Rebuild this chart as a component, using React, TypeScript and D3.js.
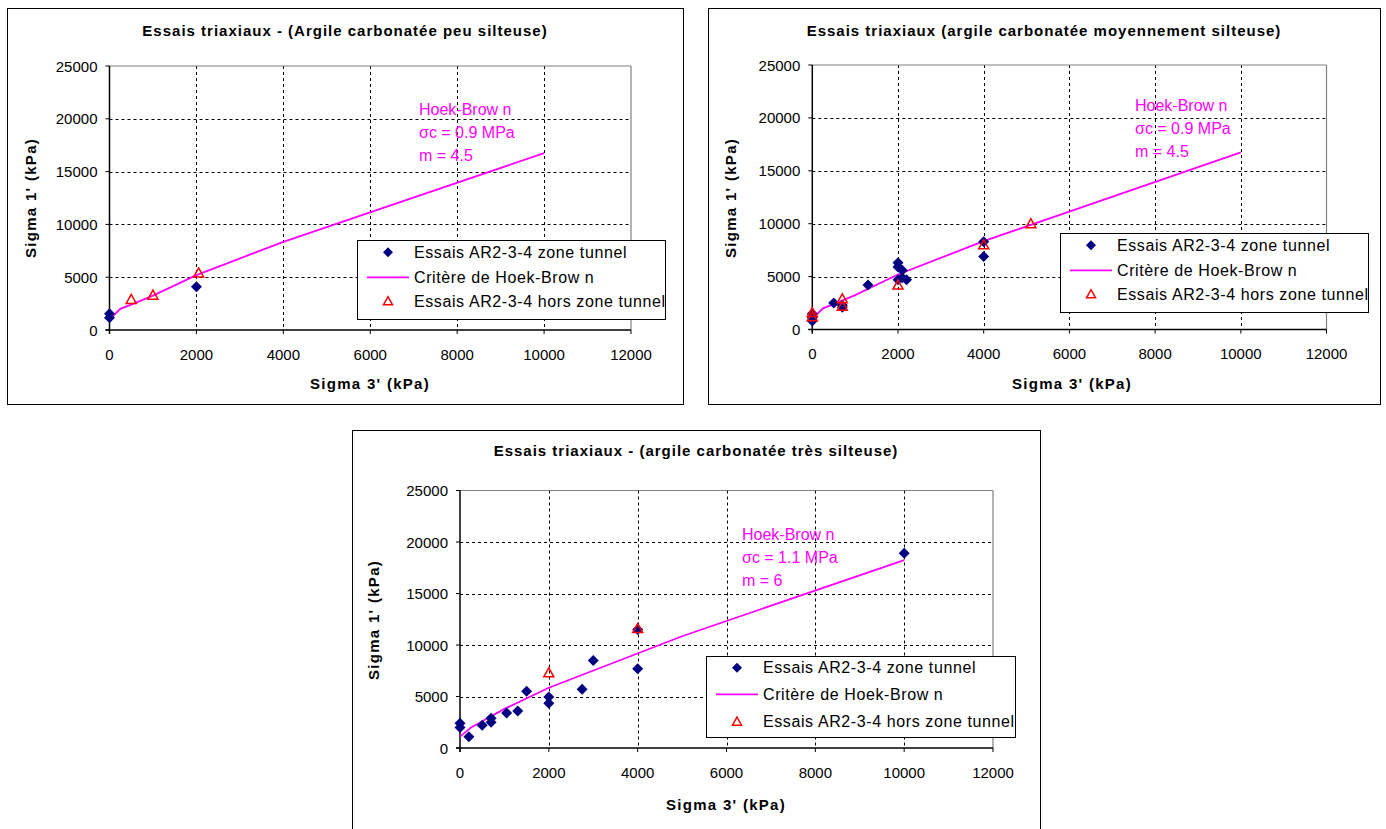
import React from 'react';
import * as d3 from 'd3';

// ---------- data ----------
const xTickValues = [0, 2000, 4000, 6000, 8000, 10000, 12000];
const yTickValues = [0, 5000, 10000, 15000, 20000, 25000];

const chartTitles = [
  'Essais triaxiaux - (Argile carbonatée peu silteuse)',
  'Essais triaxiaux (argile carbonatée moyennement silteuse)',
  'Essais triaxiaux - (argile carbonatée très silteuse)',
];
const legendLabels = [
  'Essais AR2-3-4 zone tunnel',
  'Critère de Hoek-Brow n',
  'Essais AR2-3-4 hors zone tunnel',
];
const xAxisTitle = "Sigma 3' (kPa)";
const yAxisTitle = "Sigma 1' (kPa)";

const annotPeu = ['Hoek-Brow n', 'σc = 0.9 MPa', 'm = 4.5'];
const annotMoy = ['Hoek-Brow n', 'σc = 0.9 MPa', 'm = 4.5'];
const annotTres = ['Hoek-Brow n', 'σc = 1.1 MPa', 'm = 6'];

// chart 1 : peu silteuse
const peuTunnel: [number, number][] = [[0, 1150], [0, 1550], [2000, 4100]];
const peuHors: [number, number][] = [[500, 2900], [1000, 3300], [2050, 5400]];
const peuCurve: [number, number][] = [[0, 1000], [250, 2000], [500, 2400], [1000, 3250], [2000, 5200], [4000, 8350], [10000, 16750]];

// chart 2 : moyennement silteuse
const moyTunnel: [number, number][] = [
  [0, 800], [0, 1100], [0, 1500], [500, 2500], [700, 2100], [700, 2300], [1300, 4200],
  [2000, 6300], [2000, 5900], [2100, 5600], [2000, 4700], [2100, 4900], [2200, 4700],
  [4000, 8300], [4000, 6900],
];
const moyHors: [number, number][] = [[0, 1200], [0, 1600], [700, 2900], [700, 2200], [2000, 4200], [4000, 8000], [5100, 10000]];
const moyCurve: [number, number][] = [[0, 1000], [250, 2000], [500, 2400], [1000, 3250], [2000, 5200], [4000, 8350], [10000, 16750]];

// chart 3 : très silteuse
const tresTunnel: [number, number][] = [
  [0, 2000], [0, 2400], [200, 1100], [500, 2200], [700, 2500], [700, 2900], [1050, 3400],
  [1300, 3600], [1500, 5500], [2000, 4350], [2000, 4950], [2750, 5700], [3000, 8500],
  [4000, 7700], [4000, 11500], [10000, 18900],
];
const tresHors: [number, number][] = [[2000, 7300], [4000, 11600]];
const tresCurve: [number, number][] = [[0, 1100], [250, 2000], [500, 2600], [1000, 3800], [2000, 5850], [5000, 10850], [10000, 18250]];

// ---------- layout ----------
type Layout = {
  frame: { x: number; y: number; w: number; h: number };
  pl: number; pr: number; pt: number; pb: number;
  title: [number, number];
  xTitle: [number, number];
  yTitle: [number, number];
  legend: { x: number; y: number; w: number; h: number; rows: number[] };
  annot: [number, number];
};

const FONT = '"Liberation Sans", Arial, sans-serif';
const NAVY = '#000080';
const MAGENTA = '#FF00FF';
const RED = '#FF0000';

const diamondPath = (s: number) => `M0,${-s}L${s},0L0,${s}L${-s},0Z`;
const trianglePath = (s: number) => `M0,${-s}L${s},${s * 0.8}L${-s},${s * 0.8}Z`;

function Chart(props: {
  layout: Layout; title: string; tunnel: [number, number][]; hors: [number, number][];
  curve: [number, number][]; annot: string[];
}) {
  const { layout: L, title, tunnel, hors, curve, annot } = props;
  const x = d3.scaleLinear().domain([0, 12000]).range([L.pl, L.pr]);
  const y = d3.scaleLinear().domain([0, 25000]).range([L.pb, L.pt]);
  const line = d3.line<[number, number]>().x(d => x(d[0])).y(d => y(d[1]));
  const lg = L.legend;
  return (
    <g>
      <rect x={L.frame.x + 0.5} y={L.frame.y + 0.5} width={L.frame.w} height={L.frame.h} fill="#fff" stroke="#000" strokeWidth={1} />
      <text x={L.title[0]} y={L.title[1]} textAnchor="middle" dominantBaseline="central" fontFamily={FONT} fontWeight="bold" fontSize={15} letterSpacing={1.0}>{title}</text>
      {/* grid */}
      {xTickValues.filter(v => v > 0 && v < 12000).map(v => (
        <line key={'gx' + v} x1={Math.round(x(v)) + 0.5} x2={Math.round(x(v)) + 0.5} y1={L.pt} y2={L.pb} stroke="#000" strokeDasharray="3,3" strokeWidth={1} />
      ))}
      {yTickValues.filter(v => v > 0 && v < 25000).map(v => (
        <line key={'gy' + v} x1={L.pl} x2={L.pr} y1={Math.round(y(v)) + 0.5} y2={Math.round(y(v)) + 0.5} stroke="#000" strokeDasharray="3,3" strokeWidth={1} />
      ))}
      {/* border top/right */}
      <line x1={L.pl} x2={L.pr} y1={L.pt} y2={L.pt} stroke="#808080" strokeWidth={1.2} />
      <line x1={L.pr} x2={L.pr} y1={L.pt} y2={L.pb} stroke="#808080" strokeWidth={1.2} />
      {/* axes */}
      <line x1={L.pl} x2={L.pl} y1={L.pt} y2={L.pb + 4} stroke="#000" strokeWidth={1.5} />
      <line x1={L.pl - 4} x2={L.pr} y1={L.pb} y2={L.pb} stroke="#000" strokeWidth={1.5} />
      {yTickValues.map(v => (
        <g key={'ty' + v}>
          <line x1={L.pl - 4} x2={L.pl} y1={y(v)} y2={y(v)} stroke="#000" strokeWidth={1} />
          <text x={L.pl - 12} y={y(v)} textAnchor="end" dominantBaseline="central" fontFamily={FONT} fontSize={15}>{v}</text>
        </g>
      ))}
      {xTickValues.map(v => (
        <g key={'tx' + v}>
          <line x1={x(v)} x2={x(v)} y1={L.pb} y2={L.pb + 4} stroke="#000" strokeWidth={1} />
          <text x={x(v)} y={L.pb + 24} textAnchor="middle" dominantBaseline="central" fontFamily={FONT} fontSize={15}>{v}</text>
        </g>
      ))}
      <text x={L.xTitle[0]} y={L.xTitle[1]} textAnchor="middle" dominantBaseline="central" fontFamily={FONT} fontWeight="bold" fontSize={15} letterSpacing={1.3}>{xAxisTitle}</text>
      <text transform={`translate(${L.yTitle[0]},${L.yTitle[1]}) rotate(-90)`} textAnchor="middle" dominantBaseline="central" fontFamily={FONT} fontWeight="bold" fontSize={15} letterSpacing={1.3}>{yAxisTitle}</text>
      {/* curve */}
      <path d={line(curve) || ''} fill="none" stroke={MAGENTA} strokeWidth={1.8} />
      {tunnel.map((d, i) => (
        <path key={'t' + i} d={diamondPath(5.5)} transform={`translate(${x(d[0])},${y(d[1])})`} fill={NAVY} />
      ))}
      {hors.map((d, i) => (
        <path key={'h' + i} d={trianglePath(5)} transform={`translate(${x(d[0])},${y(d[1])})`} fill="none" stroke={RED} strokeWidth={1.5} />
      ))}
      {/* annotation */}
      {annot.map((t, i) => (
        <text key={'a' + i} x={L.annot[0]} y={L.annot[1] + i * 23} dominantBaseline="central" fontFamily={FONT} fontSize={16} fill={MAGENTA}>{t}</text>
      ))}
      {/* legend */}
      <rect x={lg.x + 0.5} y={lg.y + 0.5} width={lg.w} height={lg.h} fill="#fff" stroke="#000" strokeWidth={1} />
      <path d={diamondPath(5)} transform={`translate(${lg.x + 31},${lg.y + lg.rows[0]})`} fill={NAVY} />
      <line x1={lg.x + 10} x2={lg.x + 52} y1={lg.y + lg.rows[1]} y2={lg.y + lg.rows[1]} stroke={MAGENTA} strokeWidth={1.8} />
      <path d={trianglePath(4.5)} transform={`translate(${lg.x + 31},${lg.y + lg.rows[2]})`} fill="none" stroke={RED} strokeWidth={1.5} />
      {legendLabels.map((t, i) => (
        <text key={'l' + i} x={lg.x + 57} y={lg.y + lg.rows[i]} dominantBaseline="central" fontFamily={FONT} fontSize={16} letterSpacing={0.6}>{t}</text>
      ))}
    </g>
  );
}

const layoutPeu: Layout = {
  frame: { x: 7, y: 8, w: 676, h: 396 },
  pl: 109.5, pr: 631, pt: 66, pb: 330,
  title: [345, 30], xTitle: [370, 383], yTitle: [30, 198],
  legend: { x: 357, y: 240, w: 308, h: 79, rows: [12.3, 37.3, 61.2] },
  annot: [419, 109],
};
const layoutMoy: Layout = {
  frame: { x: 708, y: 8, w: 672, h: 396 },
  pl: 812.3, pr: 1326.5, pt: 65, pb: 329.5,
  title: [1044, 30], xTitle: [1072, 383], yTitle: [730, 198],
  legend: { x: 1060, y: 233, w: 308, h: 79, rows: [12.3, 37.3, 61.2] },
  annot: [1135, 105],
};
const layoutTres: Layout = {
  frame: { x: 352, y: 430, w: 688, h: 405 },
  pl: 460, pr: 993, pt: 490.5, pb: 748,
  title: [696, 450], xTitle: [726, 804], yTitle: [373, 620],
  legend: { x: 706, y: 656, w: 309, h: 81, rows: [11.7, 38.3, 65.6] },
  annot: [742, 534],
};

export default function App() {
  return (
    <svg width={1386} height={829} style={{ position: 'absolute', left: 0, top: 0, background: '#fff' }}>
      <rect x={0} y={0} width={1386} height={829} fill="#fff" />
      <Chart layout={layoutPeu} title={chartTitles[0]} tunnel={peuTunnel} hors={peuHors} curve={peuCurve} annot={annotPeu} />
      <Chart layout={layoutMoy} title={chartTitles[1]} tunnel={moyTunnel} hors={moyHors} curve={moyCurve} annot={annotMoy} />
      <Chart layout={layoutTres} title={chartTitles[2]} tunnel={tresTunnel} hors={tresHors} curve={tresCurve} annot={annotTres} />
    </svg>
  );
}
